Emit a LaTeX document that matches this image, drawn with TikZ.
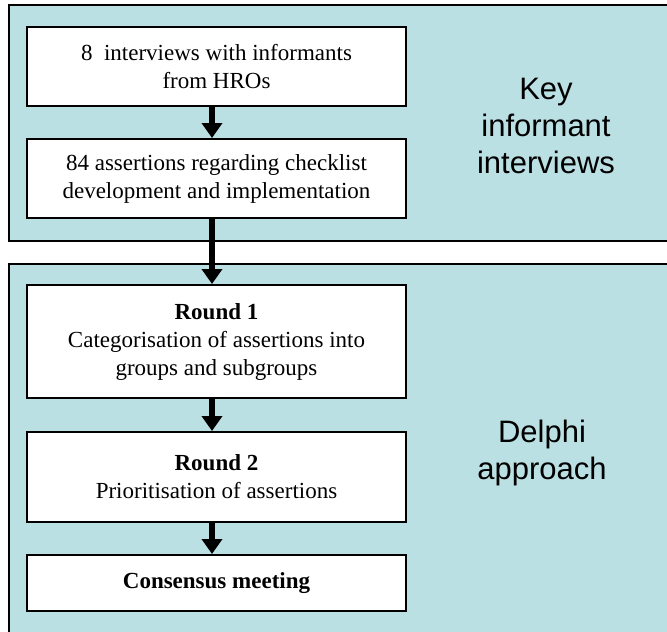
\documentclass[tikz,border=0pt]{standalone}
\usepackage{fontspec}
\setmainfont{Liberation Serif}
\newfontfamily\arialf{Liberation Sans}
\usetikzlibrary{arrows.meta,calc}
\definecolor{panelblue}{RGB}{187,224,227}
\begin{document}
\begin{tikzpicture}[x=1pt,y=-1pt,
 panel/.style={draw=black,line width=2pt,fill=panelblue,rectangle,anchor=north west,inner sep=0,minimum width=682pt},
 stepbox/.style={draw=black,line width=2pt,fill=white,rectangle,minimum width=379pt,align=center,font=\fontsize{23}{28}\selectfont,inner sep=0},
 flow/.style={line width=6pt,-{Triangle[width=20pt,length=15pt]}},
 sidelabel/.style={align=center,font=\arialf\fontsize{31}{37}\selectfont}]
\useasboundingbox (0,0) rectangle (667,632);
\clip (0,0) rectangle (667,632);
\node[panel,minimum height=236pt] (p1) at (8,4) {};
\node[panel,minimum height=400pt] (p2) at (8,263) {};
\node[stepbox,minimum height=79pt] (b1) at (216.5,66.5) {8\ \ interviews with informants\\from HROs};
\node[stepbox,minimum height=79pt] (b2) at (216.5,178.5) {84 assertions regarding checklist\\development and implementation};
\node[stepbox,minimum height=113pt] (b3) at (216.5,341.5) {\textbf{Round 1}\\Categorisation of assertions into\\groups and subgroups};
\node[stepbox,minimum height=90pt] (b4) at (216.5,477) {\textbf{Round 2}\\Prioritisation of assertions};
\node[stepbox,minimum height=56pt] (b5) at (216.5,583) {\textbf{Consensus meeting}};
\node[sidelabel] (l1) at (546,126) {Key\\informant\\interviews};
\node[sidelabel] (l2) at (542,453) {Delphi\\approach};
\coordinate (ax) at (212,0);
\draw[flow] (b1.south -| ax) -- (b2.north -| ax);
\draw[flow] (b2.south -| ax) -- (b3.north -| ax);
\draw[flow] (b3.south -| ax) -- (b4.north -| ax);
\draw[flow] (b4.south -| ax) -- (b5.north -| ax);
\end{tikzpicture}
\end{document}
